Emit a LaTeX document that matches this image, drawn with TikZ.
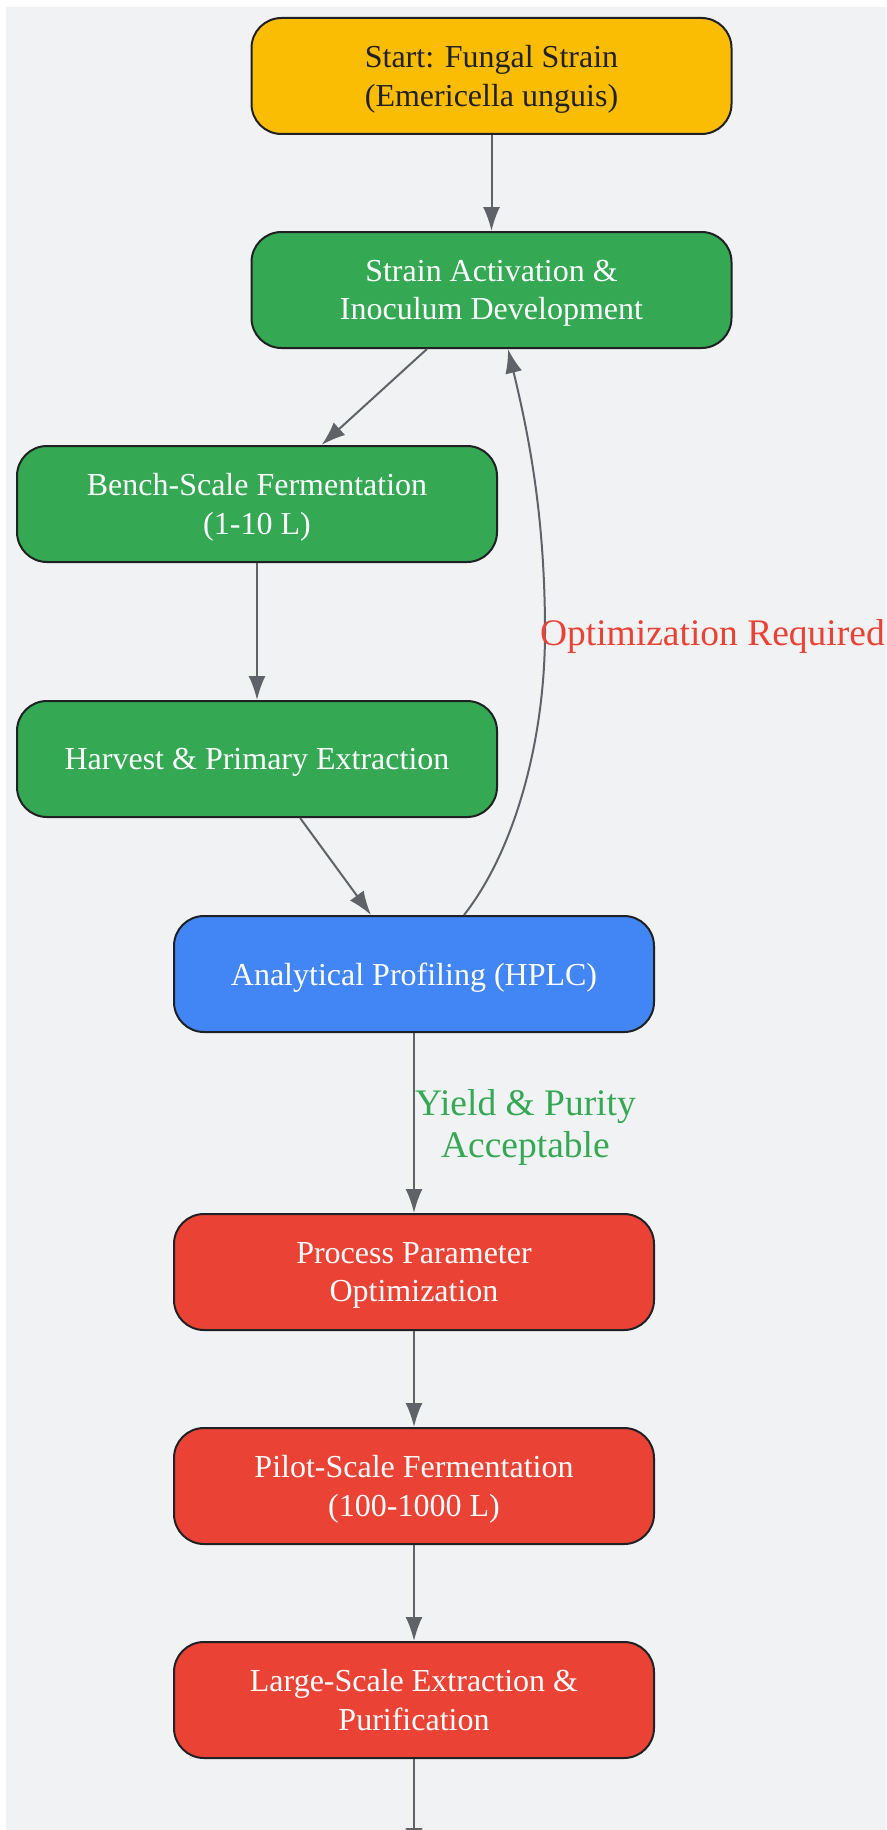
\documentclass[tikz,border=0pt]{standalone}
\usepackage{fontspec}
\setmainfont{Liberation Serif}
\usetikzlibrary{arrows.meta}
\definecolor{bgc}{HTML}{F1F2F4}
\definecolor{ink}{HTML}{202124}
\definecolor{edgec}{HTML}{5F6368}
\definecolor{gyellow}{HTML}{FBBC04}
\definecolor{ggreen}{HTML}{34A853}
\definecolor{gblue}{HTML}{4285F4}
\definecolor{gred}{HTML}{EA4335}
\tikzset{
  >={Latex[length=24pt,width=17pt]},
}
\tikzstyle{stage}=[draw=ink,line width=2pt,rounded corners=30pt,minimum width=480pt,minimum height=116pt,align=center,text=white,font=\fontsize{32}{38.5}\selectfont,text depth=-6pt]
\tikzstyle{flow}=[edgec,line width=2pt,->]
\tikzstyle{cond}=[font=\fontsize{37.5}{42}\selectfont,align=center,inner sep=0pt,text depth=-2pt]

\begin{document}
\begin{tikzpicture}[x=1pt,y=-1pt]
  \useasboundingbox (0,0) rectangle (886,1830);
  \clip (0,0) rectangle (886,1830);
  \fill[bgc] (6,7) rectangle (886,1830);
  \node[stage,fill=gyellow,text=ink] (start) at (491.5,76) {Start: Fungal Strain\\(Emericella unguis)};
  \node[stage,fill=ggreen] (activ) at (491.5,290) {Strain Activation \&\\Inoculum Development};
  \node[stage,fill=ggreen] (bench) at (257,504) {Bench-Scale Fermentation\\(1-10 L)};
  \node[stage,fill=ggreen] (harvest) at (257,759) {Harvest \& Primary Extraction};
  \node[stage,fill=gblue] (hplc) at (414,974) {Analytical Profiling (HPLC)};
  \node[stage,fill=gred] (optim) at (414,1272) {Process Parameter\\Optimization};
  \node[stage,fill=gred] (pilot) at (414,1486) {Pilot-Scale Fermentation\\(100-1000 L)};
  \node[stage,fill=gred] (large) at (414,1700) {Large-Scale Extraction \&\\Purification};
  \coordinate (next) at (414,1852);
  \draw[flow] (start) -- (activ);
  \draw[flow] (activ) -- (bench);
  \draw[flow] (bench) -- (harvest);
  \draw[flow] (harvest) -- (hplc);
  \draw[flow] ([xshift=50pt]hplc.north) .. controls (515,850) and (545,740) .. (545,632)
    node[cond,text=gred,anchor=west,xshift=-6pt] {Optimization Required}
    .. controls (545,520) and (530,440) .. ([xshift=16.5pt]activ.south);
  \draw[flow] (hplc) -- node[cond,text=ggreen,anchor=west] {Yield \& Purity\\Acceptable} (optim);
  \draw[flow] (optim) -- (pilot);
  \draw[flow] (pilot) -- (large);
  \draw[flow] (large) -- (next);
\end{tikzpicture}
\end{document}
